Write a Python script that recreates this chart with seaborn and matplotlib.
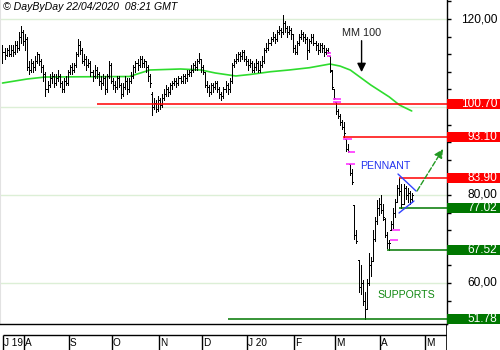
import numpy as np
import pandas as pd
import matplotlib
matplotlib.use("Agg")
import matplotlib.pyplot as plt
import seaborn as sns
from matplotlib.patches import Rectangle

# ---------------- data ----------------
opens = [112,112.5,111.8,113,112,113,112.5,114,113.5,116,
         117,115,115.5,109,108.5,110,109,110.5,112,110.5,
         109,107.5,104,105,106.5,107,105.5,106.5,107,105.5,
         104,106,105.5,108,109,108.5,109.5,112,114,113,
         110.5,111,109.5,110,108,107,108.5,107.5,106,105.5,
         106.5,104,107,109.5,106,105,104.5,106.5,105,103,
         104.5,106,104,106,107,109,110,109.5,111,110,
         110.5,109,107,103,100,101,99.5,101.5,100.5,102,
         103,104,103.5,105,105.5,106,105.5,106.5,106,107,
         106.5,107.5,108,108.5,109.5,109,110.5,111,109,108,
         105,104.5,103.5,105,104.5,105.5,104,103,102.5,104,
         105,104,106,109.5,110.5,111,112,111.5,112.5,111,
         110.5,109.5,110,108.5,109,110,108.5,109.5,110.5,113,
         113.5,114.5,115.5,116,115.5,117,117.5,117,119,118,
         117,117.5,116.5,113.5,112.5,114.5,116,116.5,116,115.5,
         113,115,116,114.5,114,113,114,113.5,112.5,113,
         111.6,108.2,104,101.1,99,98,96.5,95.5,92.7,90.5,
         87,85,77.7,71,65.2,59,60,56,54,60,
         64,65,70,74,77,78,76.5,74.5,71,69,
         72,73.5,76,78.5,81.5,81,78,81.5,80,80.5,
         79]
highs = [114,113.5,113.5,114,114,114,115,115,117,118.5,
         117.5,116.5,116,110.5,111,110.5,111.5,112.5,112,111,
         109.5,108,106,107.5,108,107.5,107.5,108.5,107.5,106,
         106.5,107,108.5,109.5,110,110,112.5,115.5,115,113.5,
         112,111.5,111,110.5,108.5,109.5,109,108,107,107.5,
         107,107.5,110.5,110,106.5,106,107,107,105.5,105.5,
         107,106.5,106.5,108,109.5,110.5,111,111.5,111.5,111,
         110.5,109.5,107.5,103.5,102,101.5,102.5,102,103,104,
         105,104.5,105.5,106,106.5,106.5,107,107,107.5,107.5,
         108.5,108.5,109.5,110,110.5,111,112.3,111,109.5,108,
         106,105,105.5,105.5,106,106,104.5,103.5,104.5,106,
         105.5,106.5,110,111,112,112.5,112.5,113,113,111.5,
         111,111,110.5,110,111,110.5,110.5,111.5,113.5,114.5,
         115.5,116,117,116.5,117.5,118.5,118,121,119.5,118.5,
         118.5,118,116.5,114,115,116.5,117.5,117,116.5,116,
         115.5,116.5,116.5,115,114.5,114.5,114.5,114,113.5,113.5,
         111.6,108.4,104.2,101.1,99.5,98.5,97,96.6,92.7,91.5,
         87,86,77.7,72,65.2,64,60.7,58,61,66.8,
         66,72,75,78.9,79.3,80,78,74.8,71.5,69.8,
         74,77,79,82.3,83.9,82.5,82.5,82,81.5,81,
         80.5]
lows = [110,111,111.5,111.5,111.5,111.5,112,112.5,113,114.5,
        114,113,108.5,107.5,108,108,108.5,110,109.5,108,
        106,102.5,103.5,104.5,105.5,104.5,105,106,104.5,103.5,
        103.5,105,105,107.5,107.5,108,109,111.5,112,110,
        109.5,108.5,109,107,106,106.5,106.5,105,104,105,
        103,103.5,106.5,105.5,104,103.5,104,104.5,102,102.5,
        104,103,103.5,105.5,106.5,108,108.5,109,109,109,
        108,106,104.5,98.2,99.5,98.8,99,99.5,100,101.5,
        102.5,102.5,103,104,105,104.5,105,105.5,105.5,105.5,
        106,107,107,108,108.5,108.5,110,108,107.5,104.5,
        103.5,102.5,103,103.5,104,103.5,102,101.5,102,103.5,
        103,103.5,105.5,109,110,110.5,110.5,111,110.5,109.5,
        108.5,109,108,108,108.5,108,108,109,110,112.5,
        113,114,115,114.5,115,116.5,116,116.5,117,116,
        116.5,115.5,112.5,112,112,114,115.5,115,114.5,111,
        112.5,114.5,114,113,112,112.5,112.5,111.5,112,112.2,
        108,104,101.8,98.5,97.5,96,95,93.2,90,89.8,
        84.5,82.6,70,69.1,58,57.5,55,51.78,54,59.5,
        61.5,65,69.5,73.5,75.5,76,74.3,70.5,68,67.52,
        72,72.5,75,78.5,80,77.02,78,79,78.5,78,
        78.5]
closes = [112.5,111.8,113,112,113,112.5,114,113.5,116,117,
          115,115.5,109,108.5,110,109,110.5,112,110.5,109,
          107.5,104,105,106.5,107,105.5,106.5,107,105.5,104,
          106,105.5,108,109,108.5,109.5,112,114,113,110.5,
          111,109.5,110,108,107,108.5,107.5,106,105.5,106.5,
          104,107,109.5,106,105,104.5,106.5,105,103,104.5,
          106,104,106,107,109,110,109.5,111,110,110.5,
          109,107,105.5,100,101,99.5,101.5,100.5,102,103,
          104,103.5,105,105.5,106,105.5,106.5,106,107,106.5,
          107.5,108,108.5,109.5,109,110.5,111,109,108,105,
          104.5,103.5,105,104.5,105.5,104,103,102.5,104,105,
          104,106,109.5,110.5,111,112,111.5,112.5,111,110.5,
          109.5,110,108.5,109,110,108.5,109.5,110.5,113,113.5,
          114.5,115.5,116,115.5,117,117.5,117,119,118,117,
          117.5,116.5,113.5,112.5,114.5,116,116.5,116,115.5,113,
          115,116,114.5,114,113,114,113.5,112.5,113,112.5,
          108.5,104.5,102,99,98,96.5,95.5,94,90.5,90,
          85,83,71,69.5,59,62,56,54,60,64,
          65,70,74,77,78,76.5,75,71,69,69,
          73.5,76,78.5,81.5,81,78,81.5,80,80.5,79,
          80]

# 100-day moving average read at sample bars
ma_bar = [0, 12, 21, 62, 72, 87, 97, 104, 114, 121, 131, 140, 150, 160, 165, 170, 180, 189, 194, 200]
ma_val = [105.45, 106.36, 106.82, 106.93, 108.41, 108.64, 108.41, 107.73, 107.05, 107.39,
          108.02, 108.41, 108.93, 109.77, 109.3, 108.4, 105.0, 102.3, 100.45, 99.1]

# support / resistance levels
level_values = [100.70, 93.10, 83.90, 77.02, 67.52, 51.78]
level_labels = ["100.70", "93.10", "83.90", "77.02", "67.52", "51.78"]
level_from_bar = [46, 166.4, 194, 194, 188, 110]
level_is_resistance = [True, True, True, False, False, False]

# gap marks (magenta)
gap_from = [158.6, 158.6, 161.5, 161.5, 166.4, 168.9, 167.9, 189.4, 190.4]
gap_to = [160.6, 160.6, 165.4, 165.4, 170.8, 172.3, 172.3, 193.3, 194.3]
gap_level = [112.2, 111.6, 101.8, 101.1, 92.7, 89.8, 87.0, 69.8, 72.0]

ytick_labels = [120, 80, 60]
month_labels = ["J 19", "A", "S", "O", "N", "D", "J 20", "F", "M", "A", "M"]

# ---------------- figure ----------------
sns.set_style("white")
plt.rcParams["font.family"] = ["Liberation Sans", "DejaVu Sans"]

fig = plt.figure(figsize=(5, 3.5), dpi=100)
ax = fig.add_axes([0, 26 / 350, 447 / 500, 324 / 350])
axd = fig.add_axes([0, 0, 447 / 500, 26 / 350])

n = len(closes)
idx = np.arange(n)
axis_dates = pd.bdate_range("2019-07-17", "2020-05-29")

XL = (-1.22, 217.25)
YL = (50.68, 124.32)
ax.set_xlim(*XL)
ax.set_ylim(*YL)

# grid
for g in [120, 100, 80, 60]:
    ax.axhline(g, color="#dcefd6", lw=1.0, zorder=0)

# price bars
ax.vlines(idx, lows, highs, color="black", lw=0.7, antialiased=False, zorder=3)
ax.hlines(opens, idx - 0.45, idx, color="black", lw=0.7, antialiased=False, zorder=3)
ax.hlines(closes, idx, idx + 0.45, color="black", lw=0.7, antialiased=False, zorder=3)

# moving average
ma_df = pd.DataFrame({"bar": ma_bar, "ma": ma_val})
sns.lineplot(data=ma_df, x="bar", y="ma", ax=ax, color="#2edc2e", lw=1.2, zorder=2)

# levels
for v, start, res in zip(level_values, level_from_bar, level_is_resistance):
    ax.hlines(v, start, XL[1], color="#ff0000" if res else "#007700", lw=1.1, zorder=4)

# gaps
ax.hlines(gap_level, gap_from, gap_to, color="#ff33ff", lw=1.2, zorder=3.5)

# right axis
ax.yaxis.tick_right()
ax.set_yticks(np.arange(52, 125, 4))
ax.set_yticklabels([])
ax.tick_params(axis="y", length=3, width=1, color="black", direction="out")
ax.set_xticks([])
ax.set_xlabel("")
ax.set_ylabel("")
ax.spines["top"].set_visible(False)
ax.spines["left"].set_color("#e2e2e2")
ax.spines["left"].set_linewidth(1.5)
ax.spines["right"].set_color("black")
ax.spines["bottom"].set_color("black")
ax.spines["right"].set_linewidth(1.0)
ax.spines["bottom"].set_linewidth(1.0)

ytr = ax.get_yaxis_transform()
for t in ytick_labels:
    ax.text(1.112, t, f"{t},00", transform=ytr, ha="right", va="center",
            fontsize=8.6, color="black", clip_on=False, zorder=5)

box_h = 2.3
for v, lab, res in zip(level_values, level_labels, level_is_resistance):
    ax.add_patch(Rectangle((1.0, v - box_h / 2), 0.1186, box_h, transform=ytr,
                           facecolor="#ff0000" if res else "#007700", edgecolor="none",
                           clip_on=False, zorder=6))
    ax.text(1.112, v, lab, transform=ytr, ha="right", va="center", fontsize=8.6,
            color="white", clip_on=False, zorder=7)

# annotations
ax.text(175.7, 116.9, "MM 100", fontsize=7.8, color="#222222", ha="center", va="center", zorder=6)
ax.annotate("", xy=(175.5, 107.3), xytext=(175.5, 115.7),
            arrowprops=dict(arrowstyle="-|>", color="black", lw=1.0, mutation_scale=13), zorder=6)
ax.text(187.0, 86.6, "PENNANT", fontsize=7.6, color="#2233ee", ha="center", va="center", zorder=6)
ax.text(197.5, 57.2, "SUPPORTS", fontsize=7.6, color="#118811", ha="center", va="center", zorder=6)
ax.plot([193.3, 202.1], [84.77, 80.91], color="#3344ff", lw=1.0, zorder=5)
ax.plot([193.8, 201.1], [75.91, 78.64], color="#3344ff", lw=1.0, zorder=5)
ax.annotate("", xy=(215.3, 90.45), xytext=(202.6, 80.91),
            arrowprops=dict(arrowstyle="-|>", color="#229922", lw=1.0, ls="--",
                            mutation_scale=13, shrinkA=0, shrinkB=0), zorder=6)

fig.text(3 / 500, 1 - 7 / 350, "\u00a9 DayByDay 22/04/2020  08:21 GMT", fontsize=7.6,
         style="italic", ha="left", va="center", color="black")

# date strip
axd.set_xlim(*XL)
axd.set_ylim(0, 26)
axd.axis("off")
months = axis_dates.to_period("M")
starts = [0] + [i for i in range(1, len(axis_dates)) if months[i] != months[i - 1]]
bounds = [0.3] + [s - 0.5 for s in starts[1:]]
axd.hlines(15, bounds[0], XL[1], color="black", lw=1.0)
axd.vlines(bounds[:len(month_labels)], 0, 15, color="black", lw=1.0)
axd.vlines(XL[1] - 0.2, 0, 26, color="black", lw=1.2)
for b, lab in zip(bounds, month_labels):
    axd.text(b + 0.45, 7, lab, fontsize=7.2, ha="left", va="center", color="black")

fig.savefig("out.png", dpi=100)
